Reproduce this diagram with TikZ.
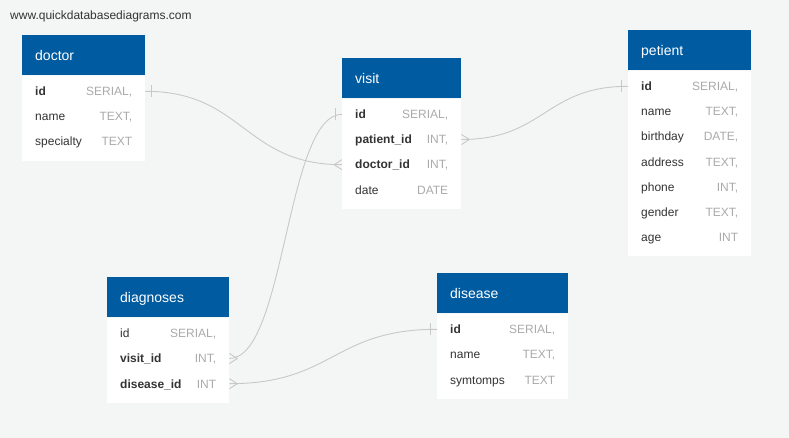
\documentclass[tikz,border=0pt]{standalone}
\usepackage{fontspec}
\setmainfont{Liberation Sans}
\usetikzlibrary{positioning}
\definecolor{hdblue}{RGB}{0,91,161}
\definecolor{bggray}{RGB}{244,245,245}
\definecolor{fieldtxt}{RGB}{51,51,51}
\definecolor{typetxt}{RGB}{170,170,170}
\definecolor{linkgray}{RGB}{200,200,200}
\newcommand\ftype[1]{\textcolor{typetxt}{#1}}
\begin{document}
\begin{tikzpicture}[x=1pt, y=-1pt,
    head/.style={fill=hdblue, text=white, font=\fontsize{14}{16}\selectfont, text width=#1pt-26pt,
        inner xsep=13pt, inner ysep=0pt, minimum height=40pt, text height=10pt, text depth=0pt, anchor=north west},
    body/.style={fill=white, minimum width=#1pt, inner sep=0pt},
    row/.style={text width=#1pt-26pt, inner xsep=13pt, inner ysep=0pt, minimum height=24.8pt,
        text height=8.6pt, text depth=0pt, font=\fontsize{12}{14}\selectfont, text=fieldtxt},
    link/.style={draw=linkgray, line width=0.9pt},
    one/.pic={\draw[link] (-6.5,-6) -- (-6.5,6);},
    many/.pic={\draw[link] (-8,0) -- (0,-5) (-8,0) -- (0,5);}]
\fill[bggray] (0,0) rectangle (789,438);
\useasboundingbox (0,0) rectangle (789,438);
\node[anchor=west, font=\fontsize{12}{14}\selectfont, text=fieldtxt, inner sep=0pt] (site) at (10,16) {www.quickdatabasediagrams.com};

\node[head=123] (doc) at (22,35) {doctor};
\node[body=123, minimum height=85pt, below=0pt of doc] (doc-b) {};
\node[row=123, below=3.3pt of doc] (doc-id) {{\bfseries id}\hfill\ftype{SERIAL,}};
\node[row=123, below=0pt of doc-id] (doc-name) {name\hfill\ftype{TEXT,}};
\node[row=123, below=0pt of doc-name] (doc-spec) {specialty\hfill\ftype{TEXT}};

\node[head=119] (vis) at (342,58) {visit};
\node[body=119, minimum height=110pt, below=0pt of vis] (vis-b) {};
\node[row=119, below=3.3pt of vis] (vis-id) {{\bfseries id}\hfill\ftype{SERIAL,}};
\node[row=119, below=0pt of vis-id] (vis-pat) {{\bfseries patient\_id}\hfill\ftype{INT,}};
\node[row=119, below=0pt of vis-pat] (vis-doc) {{\bfseries doctor\_id}\hfill\ftype{INT,}};
\node[row=119, below=0pt of vis-doc] (vis-date) {date\hfill\ftype{DATE}};

\node[head=123] (pet) at (628,30) {petient};
\node[body=123, minimum height=185pt, below=0pt of pet] (pet-b) {};
\node[row=123, below=3.3pt of pet] (pet-id) {{\bfseries id}\hfill\ftype{SERIAL,}};
\node[row=123, below=0pt of pet-id] (pet-name) {name\hfill\ftype{TEXT,}};
\node[row=123, below=0pt of pet-name] (pet-birth) {birthday\hfill\ftype{DATE,}};
\node[row=123, below=0pt of pet-birth] (pet-addr) {address\hfill\ftype{TEXT,}};
\node[row=123, below=0pt of pet-addr] (pet-phone) {phone\hfill\ftype{INT,}};
\node[row=123, below=0pt of pet-phone] (pet-gender) {gender\hfill\ftype{TEXT,}};
\node[row=123, below=0pt of pet-gender] (pet-age) {age\hfill\ftype{INT}};

\node[head=122] (dia) at (107,277) {diagnoses};
\node[body=122, minimum height=85pt, below=0pt of dia] (dia-b) {};
\node[row=122, below=3.3pt of dia] (dia-id) {id\hfill\ftype{SERIAL,}};
\node[row=122, below=0pt of dia-id] (dia-vis) {{\bfseries visit\_id}\hfill\ftype{INT,}};
\node[row=122, below=0pt of dia-vis] (dia-dis) {{\bfseries disease\_id}\hfill\ftype{INT}};

\node[head=131] (dis) at (437,273) {disease};
\node[body=131, minimum height=85pt, below=0pt of dis] (dis-b) {};
\node[row=131, below=3.3pt of dis] (dis-id) {{\bfseries id}\hfill\ftype{SERIAL,}};
\node[row=131, below=0pt of dis-id] (dis-name) {name\hfill\ftype{TEXT,}};
\node[row=131, below=0pt of dis-name] (dis-sym) {symtomps\hfill\ftype{TEXT}};

\draw[link] (doc-id.east) .. controls +(98,0) and +(-98,0) .. (vis-doc.west);
\draw[link] (vis-id.west) .. controls +(-56,0) and +(56,0) .. (dia-vis.east);
\draw[link] (vis-pat.east) .. controls +(83,0) and +(-83,0) .. (pet-id.west);
\draw[link] (dia-dis.east) .. controls +(104,0) and +(-104,0) .. (dis-id.west);
\pic[xscale=-1] at (doc-id.east) {one};
\pic at (vis-doc.west) {many};
\pic at (vis-id.west) {one};
\pic[xscale=-1] at (dia-vis.east) {many};
\pic[xscale=-1] at (vis-pat.east) {many};
\pic at (pet-id.west) {one};
\pic[xscale=-1] at (dia-dis.east) {many};
\pic at (dis-id.west) {one};
\end{tikzpicture}
\end{document}
